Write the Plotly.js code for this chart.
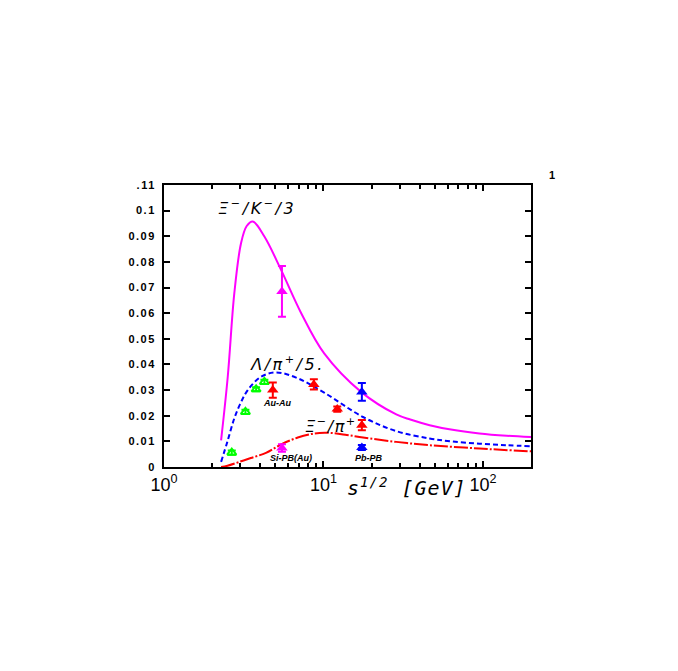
<!DOCTYPE html>
<html>
<head>
<meta charset="utf-8">
<script src="https://cdn.plot.ly/plotly-3.0.1.min.js"></script>
<style>html,body{margin:0;padding:0;background:#fff;}#chart{width:678px;height:671px;}</style>
</head>
<body>
<div id="chart"></div>
<script>
// Curves (sqrt(s) in GeV, ratio)
var xiK_x = [2.28, 2.51, 2.76, 3.04, 3.3, 3.6, 4.26, 5.42, 7.25, 10.1, 17.2, 28.6, 35, 46.3, 63, 95, 141, 200];
var xiK_y = [0.0104, 0.0352, 0.0678, 0.0873, 0.094, 0.0958, 0.0899, 0.0769, 0.060, 0.0443, 0.0293, 0.0205, 0.0185, 0.0163, 0.0146, 0.0131, 0.0122, 0.0117];
var lamPi_x = [2.28, 2.5, 2.76, 3.0, 3.35, 4.06, 5.05, 6.9, 10.1, 17.7, 28.6, 46.3, 63, 95, 141, 200];
var lamPi_y = [0.002, 0.010, 0.019, 0.0245, 0.030, 0.0352, 0.0369, 0.0346, 0.029, 0.0195, 0.014, 0.0111, 0.0100, 0.0091, 0.0085, 0.0081];
var xiPi_x = [2.28, 2.5, 2.97, 3.5, 4.36, 5.42, 6.9, 8.8, 10.9, 14, 17.7, 28.6, 46.3, 95, 200];
var xiPi_y = [0.0, 0.0005, 0.002, 0.0035, 0.0055, 0.0088, 0.0115, 0.0131, 0.0133, 0.0125, 0.0115, 0.0098, 0.0085, 0.0072, 0.0061];

// Data points
var auGreen_x = [2.66, 3.24, 3.78, 4.26];
var auGreen_y = [0.0056, 0.0215, 0.0303, 0.0332];
var auGreen_err = [0.0008, 0.0008, 0.0008, 0.0008];
var red_x = [4.81, 8.7, 12.2, 17.4];
var red_y = [0.0300, 0.0322, 0.0226, 0.0163];
var red_err = [0.003, 0.002, 0.001, 0.002];
var blue_x = [17.4, 17.4];
var blue_y = [0.0293, 0.0076];
var blue_err = [0.0035, 0.001];
var mag_x = [5.49, 5.49];
var mag_y = [0.0685, 0.0074];
var mag_err = [0.0099, 0.0015];

var yTickVals = [0, 0.01, 0.02, 0.03, 0.04, 0.05, 0.06, 0.07, 0.08, 0.09, 0.1, 0.11];
var yTickText = ['0', '0.01', '0.02', '0.03', '0.04', '0.05', '0.06', '0.07', '0.08', '0.09', '0.1', '.11'];
var xTickVals = [1, 10, 100];
var xTickText = ['10<sup>0</sup>', '10<sup>1</sup>', '10<sup>2</sup>'];
var xMinorVals = [2, 3, 4, 5, 6, 7, 8, 9, 20, 30, 40, 50, 60, 70, 80, 90, 200];

var MAG = '#ff00ff', BLUE = '#0000ff', RED = '#ff0000', GREEN = '#00ff00';

function errObj(arr, col) {
  return {type: 'data', array: arr, visible: true, color: col, thickness: 2, width: 4};
}

var traces = [
  {x: xiK_x, y: xiK_y, mode: 'lines', line: {color: MAG, width: 2, shape: 'spline', smoothing: 1}, hoverinfo: 'skip'},
  {x: lamPi_x, y: lamPi_y, mode: 'lines', line: {color: BLUE, width: 2, dash: '5px,3px', shape: 'spline', smoothing: 1}, hoverinfo: 'skip'},
  {x: xiPi_x, y: xiPi_y, mode: 'lines', line: {color: RED, width: 2, dash: '14px,2px,2px,2px', shape: 'spline', smoothing: 1}, hoverinfo: 'skip'},
  {x: auGreen_x, y: auGreen_y, mode: 'markers', marker: {symbol: 'triangle-up-open', size: 8, color: GREEN, line: {width: 2, color: GREEN}}, error_y: errObj(auGreen_err, GREEN)},
  {x: red_x, y: red_y, mode: 'markers', marker: {symbol: 'triangle-up', size: 10, color: RED}, error_y: errObj(red_err, RED)},
  {x: blue_x, y: blue_y, mode: 'markers', marker: {symbol: 'triangle-up', size: 10, color: BLUE}, error_y: errObj(blue_err, BLUE)},
  {x: mag_x, y: mag_y, mode: 'markers', marker: {symbol: 'triangle-up', size: 10, color: MAG}, error_y: errObj(mag_err, MAG)}
];

var labFont = {family: 'DejaVu Sans', size: 16, color: '#000', style: 'italic'};
var smallFont = {family: 'Liberation Sans', size: 9, color: '#000', style: 'italic', weight: 'bold'};

var layout = {
  width: 678, height: 671,
  margin: {l: 164, r: 147, t: 185, b: 204, pad: 0},
  paper_bgcolor: '#fff', plot_bgcolor: '#fff',
  showlegend: false,
  xaxis: {
    type: 'log', range: [0, Math.log10(200)],
    tickmode: 'array', tickvals: xTickVals, ticktext: xTickText,
    ticks: 'inside', ticklen: 6, tickwidth: 2, tickcolor: '#000',
    minor: {tickmode: 'array', tickvals: xMinorVals, ticks: 'inside', ticklen: 4, tickwidth: 2, tickcolor: '#000', showgrid: false},
    showline: true, linecolor: '#000', linewidth: 2, mirror: 'allticks',
    showgrid: false, zeroline: false,
    tickfont: {family: 'Liberation Sans', size: 18, color: '#000'}
  },
  yaxis: {
    range: [0, 0.11],
    tickvals: yTickVals, ticktext: yTickText,
    ticks: 'inside', ticklen: 6, tickwidth: 2, tickcolor: '#000',
    showline: true, linecolor: '#000', linewidth: 2, mirror: 'allticks',
    showgrid: false, zeroline: false, ticklabelstandoff: 4,
    tickfont: {family: 'Liberation Sans', size: 11, color: '#000', weight: 'bold'}
  },
  annotations: [
    {xref: 'x', yref: 'y', x: 0.586, y: 0.1011, xanchor: 'center', yanchor: 'middle', showarrow: false, text: 'Ξ<sup>−</sup>/K<sup>−</sup>/3', font: labFont},
    {xref: 'x', yref: 'y', x: 0.772, y: 0.0405, xanchor: 'center', yanchor: 'middle', showarrow: false, text: 'Λ/π<sup>+</sup>/5.', font: labFont},
    {xref: 'x', yref: 'y', x: 1.045, y: 0.0163, xanchor: 'center', yanchor: 'middle', showarrow: false, text: 'Ξ<sup>−</sup>/π<sup>+</sup>', font: labFont},
    {xref: 'x', yref: 'y', x: 0.609, y: 0.0248, xanchor: 'left', yanchor: 'middle', showarrow: false, text: 'Au-Au', font: smallFont},
    {xref: 'x', yref: 'y', x: 0.650, y: 0.0037, xanchor: 'left', yanchor: 'middle', showarrow: false, text: 'Si-PB(Au)', font: smallFont},
    {xref: 'x', yref: 'y', x: 1.184, y: 0.0037, xanchor: 'left', yanchor: 'middle', showarrow: false, text: 'Pb-PB', font: smallFont},
    {xref: 'paper', yref: 'paper', x: 0.508, y: -0.07, xanchor: 'left', yanchor: 'middle', showarrow: false, text: 's<sup>1/2</sup> [GeV]', font: {family: 'DejaVu Sans Mono', size: 20, color: '#000', style: 'italic'}},
    {xref: 'paper', yref: 'paper', x: 1.056, y: 1.037, xanchor: 'center', yanchor: 'middle', showarrow: false, text: '1', font: {family: 'Liberation Sans', size: 11, color: '#000', weight: 'bold'}}
  ]
};

Plotly.newPlot('chart', traces, layout, {staticPlot: true, displayModeBar: false}).then(function () {
  // wider letter spacing, as in the original plot's font
  document.querySelectorAll('.ytick text').forEach(function (t) { t.style.letterSpacing = '1.5px'; });
  var ann = document.querySelectorAll('.annotation-text');
  [0, 1].forEach(function (i) { if (ann[i]) ann[i].style.letterSpacing = '2.5px'; });
  if (ann[2]) ann[2].style.letterSpacing = '1.5px';
  if (ann[6]) ann[6].style.letterSpacing = '1px';
});
</script>
</body>
</html>
